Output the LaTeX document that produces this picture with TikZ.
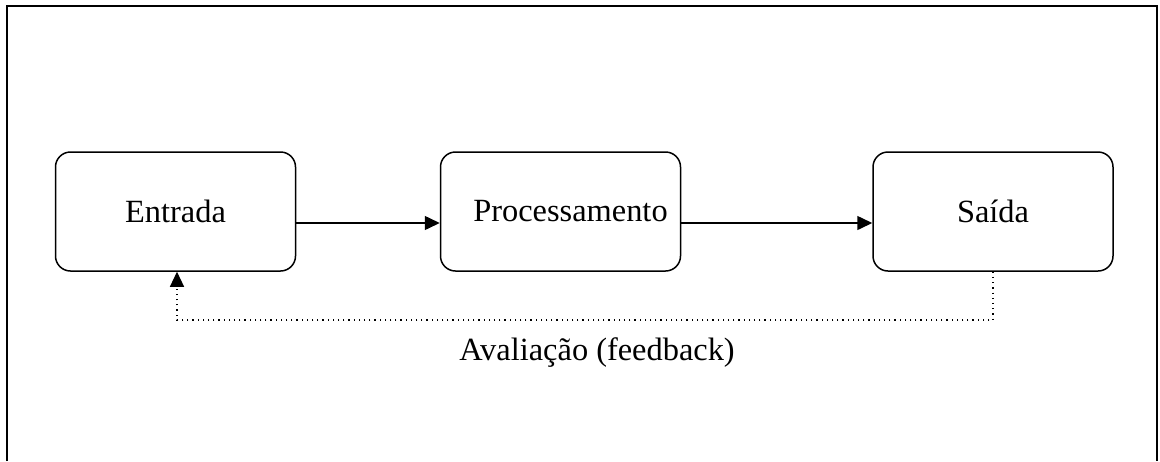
\documentclass[tikz,border=0pt]{standalone}
\usepackage{fontspec}
\setmainfont{Liberation Serif}
\usetikzlibrary{arrows.meta}

\tikzset{
  stage/.style={draw,rounded corners=7.5pt,line width=0.75pt,minimum width=120pt,minimum height=59.5pt,font=\fontsize{16.2}{19}\selectfont},
  flow/.style={draw,line width=0.75pt,-{Triangle[length=7.5pt,width=7pt]}},
  back/.style={draw,dotted,line width=0.6pt,-{Triangle[length=7.5pt,width=7pt]}}
}

\begin{document}
\begin{tikzpicture}[x=0.5pt,y=-0.5pt]
    \useasboundingbox (0,0) rectangle (1160,461);
    \draw[line width=1pt] (7,461) -- (7,6) -- (1157,6) -- (1157,461);
    \node[stage] (A) at (175.5,211.5) {Entrada};
    \node[stage] (B) at (560.5,211.5) {\hspace*{10pt}Processamento};
    \node[stage] (C) at (993,211.5) {Saída};
    \coordinate (c1) at (993,320);
    \coordinate (c2) at (177,320);
    \draw[flow] ([yshift=-5.75pt]A.east) -- ([yshift=-5.75pt]B.west);
    \draw[flow] ([yshift=-5.75pt]B.east) -- ([yshift=-5.75pt]C.west);
    \draw[back] (C.south) -- (c1) -- node[below=5pt,font=\fontsize{16.2}{19}\selectfont,pos=0.5,xshift=6pt]{Avaliação (feedback)} (c2) -- (c2 |- A.south);
\end{tikzpicture}
\end{document}
